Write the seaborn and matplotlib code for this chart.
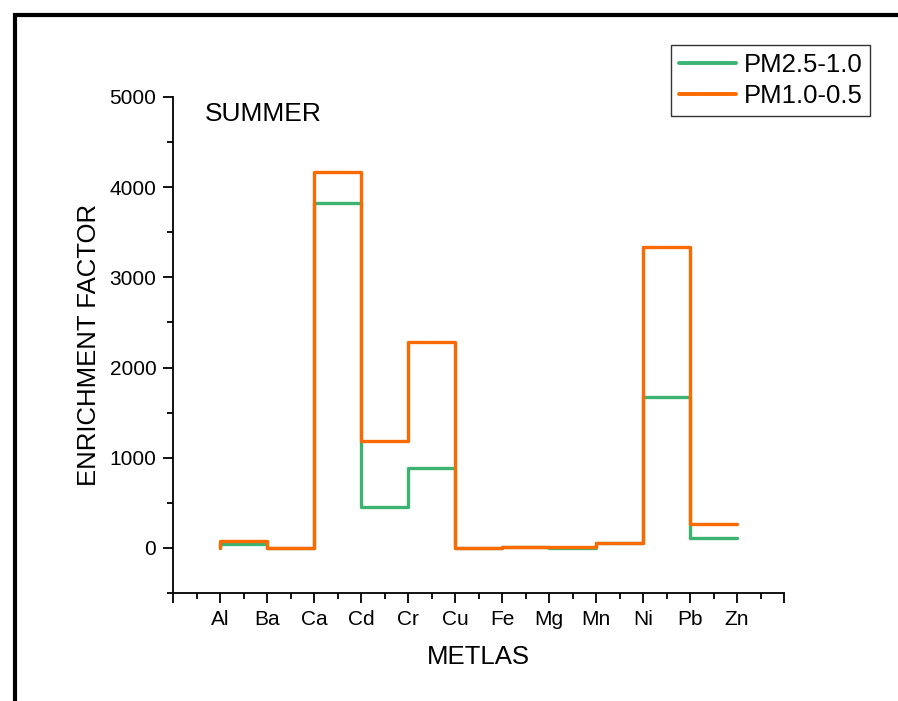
import seaborn as sns
import matplotlib.pyplot as plt
import pandas as pd
from matplotlib.patches import Rectangle
from matplotlib.ticker import MultipleLocator

metals = ['Al', 'Ba', 'Ca', 'Cd', 'Cr', 'Cu', 'Fe', 'Mg', 'Mn', 'Ni', 'Pb', 'Zn']
pm25_10 = [0, 40, 0, 3830, 450, 890, 0, 15, 0, 50, 1670, 110]
pm10_05 = [0, 80, 0, 4170, 1180, 2280, 0, 15, 8, 50, 3340, 270]
series = ['PM2.5-1.0', 'PM1.0-0.5']
colors = ['#3cb371', '#fa6a00']

df = pd.DataFrame({
    'pos': list(range(len(metals))) * 2,
    'ef': pm25_10 + pm10_05,
    'size': [series[0]] * len(metals) + [series[1]] * len(metals),
})

sns.set_style('ticks')
plt.rcParams['font.family'] = ['Liberation Sans', 'DejaVu Sans']
plt.rcParams['text.color'] = 'black'
plt.rcParams['axes.labelcolor'] = 'black'

fig = plt.figure(figsize=(8.98, 7.01), dpi=100)
ax = fig.add_axes([173 / 898, 108 / 701, 611 / 898, 496 / 701])

sns.lineplot(data=df, x='pos', y='ef', hue='size', hue_order=series,
             palette=colors, drawstyle='steps-pre', lw=2.4, ax=ax, legend=False)

ax.set_xlim(-1, 12)
ax.set_ylim(-500, 5000)
ax.set_xticks(range(-1, 13))
ax.set_xticklabels([''] + metals + [''])
ax.xaxis.set_minor_locator(MultipleLocator(0.5))
ax.set_yticks(range(0, 5001, 1000))
ax.yaxis.set_minor_locator(MultipleLocator(500))
ax.tick_params(which='major', direction='out', length=7, width=1.3, labelsize=15,
               colors='black', pad=5)
ax.tick_params(which='minor', direction='out', length=4, width=1.3, colors='black')
for s in ['top', 'right']:
    ax.spines[s].set_visible(False)
for s in ['left', 'bottom']:
    ax.spines[s].set_linewidth(1.3)
    ax.spines[s].set_color('black')

ax.set_xlabel('METLAS', fontsize=18.5, labelpad=12)
ax.set_ylabel('ENRICHMENT FACTOR', fontsize=18.5, labelpad=6)
ax.text(0.052, 0.99, 'SUMMER', transform=ax.transAxes, fontsize=19, va='top', ha='left')

handles = [plt.Line2D([], [], color=c, lw=2.8) for c in colors]
leg = ax.legend(handles, series, loc='upper right', bbox_to_anchor=(870 / 898, 656 / 701),
                bbox_transform=fig.transFigure, fontsize=18.5, frameon=True, fancybox=False,
                edgecolor='black', handlelength=2.2, borderpad=0.3, labelspacing=0.3,
                handletextpad=0.3, borderaxespad=0, handleheight=0.7)
leg.get_frame().set_linewidth(1.0)

fig.patches.append(Rectangle((15 / 898, -0.1), 1.2, (701 - 15) / 701 + 0.1, transform=fig.transFigure,
                             fill=False, edgecolor='black', lw=3, zorder=0))

fig.savefig('out.png', dpi=100)
